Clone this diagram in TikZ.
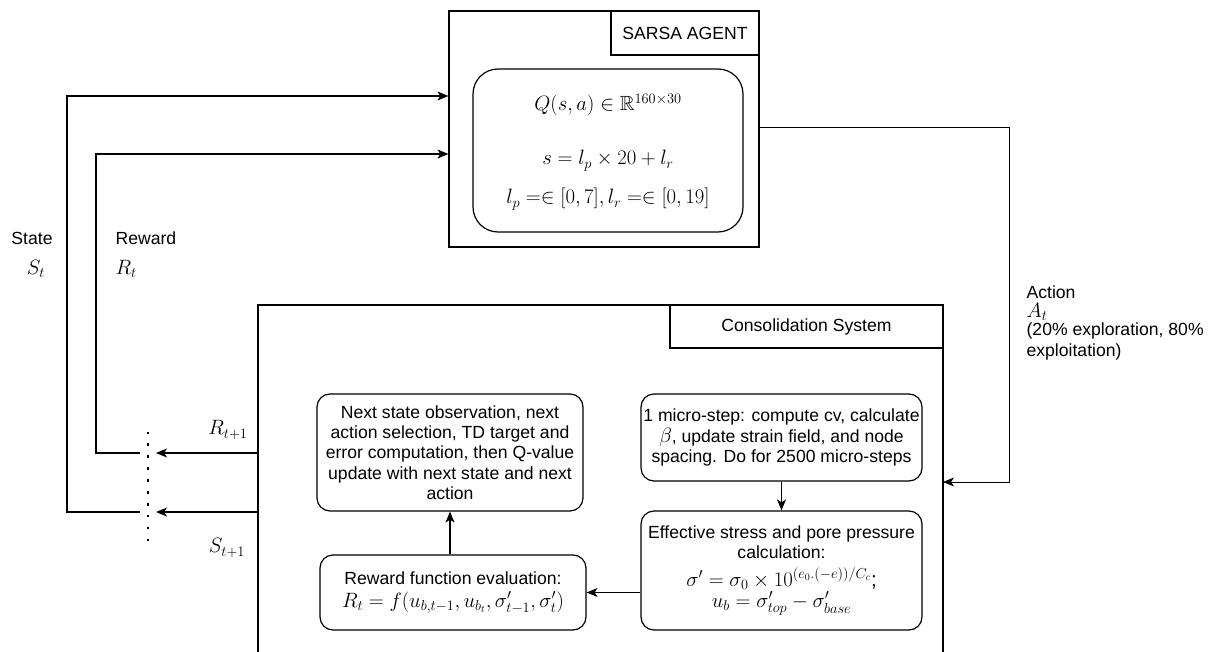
\documentclass[tikz,border=0pt]{standalone}
\usepackage{amsmath,amssymb}
\usepackage{fontspec}
\setmainfont{Liberation Sans}
\usetikzlibrary{arrows.meta}
\newcommand\txtfont{\fontsize{17.6pt}{20.3pt}\selectfont}
\newcommand\mthfont{\fontsize{20.5pt}{24pt}\selectfont}
\begin{document}
\begin{tikzpicture}[x=1pt,y=-1pt,line width=1.2pt,
  frame/.style={draw,inner sep=0pt,align=center,font=\txtfont},
  rbox/.style={draw,rounded corners=13pt,inner sep=0pt,align=center,font=\txtfont},
  lbl/.style={inner sep=0pt,font=\txtfont},
  mlbl/.style={inner sep=0pt,font=\mthfont},
  arr/.style={-{Stealth[length=11pt,width=9pt,inset=3pt]}}]
\useasboundingbox (0,0) rectangle (1209,652);

% SARSA agent
\node[frame,minimum width=310pt,minimum height=236pt] (sarsa) at (604,129) {};
\node[frame,minimum width=148pt,minimum height=44pt] (sarsaT) at (685,33) {SARSA AGENT};
\node[rbox,rounded corners=25pt,minimum width=270pt,minimum height=163pt] (qbox) at (608,150.5) {};
\node[mlbl,anchor=base] (q1) at (608,111) {$Q(s,a)\in\mathbb{R}^{160\times 30}$};
\node[mlbl,anchor=base] (q2) at (608,165) {$s=l_p\times 20+l_r$};
\node[mlbl,anchor=base] (q3) at (608,204) {$l_p=\in[0,7],l_r=\in[0,19]$};

% Consolidation system
\coordinate (cTL) at (258,305);
\coordinate (cTR) at (943,305);
\coordinate (cBL) at (258,652);
\coordinate (cBR) at (943,652);
\draw (cBL) -- (cTL) -- (cTR) -- (cBR);
\node[frame,minimum width=273pt,minimum height=43pt] (consT) at (806.5,326.5) {Consolidation System};

\node[rbox,minimum width=266pt,minimum height=117pt] (next) at (450,452.5)
  {Next state observation, next\\action selection, TD target and\\error computation, then Q-value\\update with next state and next\\action};
\node[rbox,minimum width=281pt,minimum height=87pt] (micro) at (781.5,437.5)
  {1 micro-step: compute cv, calculate\\{\mthfont$\beta$}, update strain field, and node\\spacing. Do for 2500 micro-steps};
\node[rbox,minimum width=281pt,minimum height=119pt] (eff) at (781.5,570.5)
  {Effective stress and pore pressure\\calculation:\\[7pt]{\mthfont$\sigma'=\sigma_0\times 10^{(e_0.(-e))/C_c}$;}\\[1pt]{\mthfont$u_b=\sigma'_{top}-\sigma'_{base}$}};
\node[rbox,minimum width=266pt,minimum height=75pt] (reward) at (453,592.5)
  {Reward function evaluation:\\[3pt]{\mthfont$R_t=f(u_{b,t-1},u_{b_t},\sigma'_{t-1},\sigma'_t)$}};

\draw[arr] (micro.south) -- (eff.north);
\draw[arr] (eff.west |- reward.east) -- (reward.east);
\draw[arr] (next.south |- reward.north) -- (next.south);

% Action
\coordinate (aC1) at (1009,128);
\coordinate (aC2) at (1009,482);
\coordinate (aEnd) at (943,482);
\draw[arr,line width=1pt] (sarsa.east |- aC1) -- (aC1) -- (aC2) -- (aEnd);
\node[lbl,anchor=north west,align=left] (actlbl) at (1026,285)
  {Action\\[-1pt]{\mthfont$A_t$}\\[-2pt](20\% exploration, 80\%\\exploitation)};

% Reward / State feedback
\coordinate (rIn) at (258,453);
\coordinate (rTip) at (156,453);
\coordinate (rOut) at (140,453);
\coordinate (rC1) at (96,453);
\coordinate (rC2) at (96,154);
\coordinate (sIn) at (258,512);
\coordinate (sTip) at (156,512);
\coordinate (sOut) at (140,512);
\coordinate (sC1) at (67,512);
\coordinate (sC2) at (67,96);
\draw[arr] (rIn) -- (rTip);
\draw[arr] (sIn) -- (sTip);
\draw[arr] (rOut) -- (rC1) -- (rC2) -- (sarsa.west |- rC2);
\draw[arr] (sOut) -- (sC1) -- (sC2) -- (sarsa.west |- sC2);
\coordinate (dTop) at (148,431.5);
\coordinate (dBot) at (148,545);
\draw[line width=2.6pt,dash pattern=on 2.6pt off 9.3pt] (dTop) -- (dBot);

\node[lbl] (stateL) at (32,238) {State};
\node[mlbl] (stL) at (36,269) {$S_t$};
\node[lbl,anchor=west] (rewardL) at (115,238) {Reward};
\node[mlbl,anchor=west] (rtL) at (115,269) {$R_t$};
\node[mlbl] (rt1L) at (228,430) {$R_{t+1}$};
\node[mlbl] (st1L) at (227,548) {$S_{t+1}$};
\end{tikzpicture}
\end{document}
